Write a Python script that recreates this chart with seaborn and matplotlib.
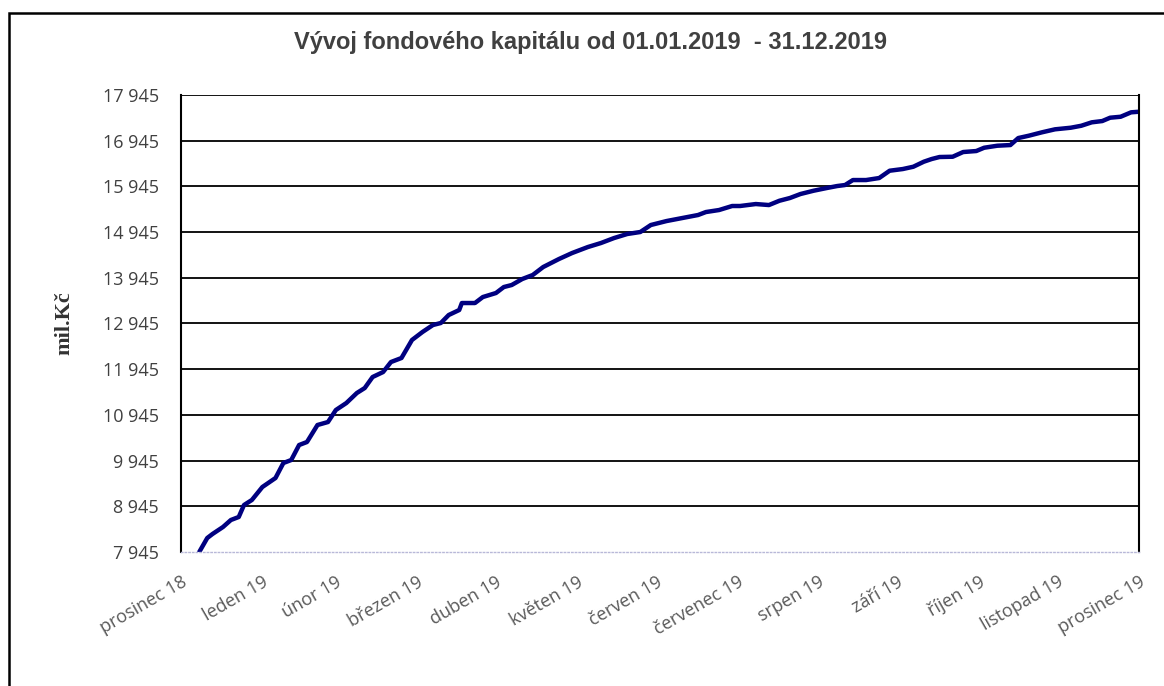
#vyvoj fondoveho kapitalu 2019 - line chart
import pandas as pd
import matplotlib.pyplot as plt
import matplotlib.ticker as mticker
from matplotlib.patches import Rectangle
import seaborn as sns

# day of year 2019 (0 = 31.12.2018) and capital in mil. Kc
den = [7, 10, 12, 16, 19, 22, 24, 27, 31, 36, 39, 42, 45, 48, 52, 56, 59, 63, 67, 70,
       73, 77, 80, 84, 88, 92, 96, 99, 102, 106, 107, 112, 115, 120, 123, 126, 130, 134,
       138, 144, 149, 155, 160, 165, 170, 175, 179, 185, 191, 197, 200, 205, 210, 213,
       219, 224, 228, 232, 236, 241, 246, 250, 253, 256, 261, 266, 270, 275, 279, 283,
       286, 289, 294, 298, 303, 306, 311, 316, 319, 323, 328, 333, 339, 343, 347, 351,
       354, 358, 362, 365]
kapital = [7950, 8251, 8339, 8492, 8645, 8711, 8973, 9083, 9367, 9564, 9892, 9958, 10286,
           10352, 10724, 10789, 11052, 11205, 11424, 11533, 11774, 11883, 12102, 12190,
           12584, 12759, 12912, 12956, 13131, 13240, 13393, 13393, 13524, 13612, 13743,
           13787, 13918, 14006, 14181, 14356, 14487, 14618, 14706, 14815, 14903, 14947,
           15100, 15187, 15253, 15319, 15384, 15428, 15516, 15516, 15559, 15537, 15631,
           15691, 15778, 15850, 15909, 15953, 15975, 16084, 16084, 16128, 16288, 16325,
           16375, 16485, 16544, 16588, 16594, 16697, 16719, 16791, 16835, 16850, 17003,
           17054, 17128, 17194, 17229, 17272, 17347, 17375, 17448, 17469, 17566, 17579]

mesice = ["prosinec 18", "leden 19", "únor 19", "březen 19", "duben 19", "květen 19",
          "červen 19", "červenec 19", "srpen 19", "září 19", "říjen 19", "listopad 19",
          "prosinec 19"]
y_ticks = [7945, 8945, 9945, 10945, 11945, 12945, 13945, 14945, 15945, 16945, 17945]

start = pd.Timestamp("2018-12-31")
df = pd.DataFrame({"Datum": start + pd.to_timedelta(den, unit="D"), "Kapital": kapital})
tick_dates = pd.date_range("2018-12-31", "2019-12-31", freq="ME")

sns.set_theme(style="white")
plt.rcParams["font.family"] = ["Open Sans", "DejaVu Sans"]

fig = plt.figure(figsize=(11.64, 6.86), dpi=100)
ax = fig.add_axes([181 / 1164, 1 - 552 / 686, 958 / 1164, 457 / 686])

sns.lineplot(data=df, x="Datum", y="Kapital", ax=ax, color="#000080", linewidth=3.2)

ax.set_xlim(start, pd.Timestamp("2019-12-31"))
ax.set_ylim(7945, 17945)
ax.set_yticks(y_ticks)
ax.yaxis.set_major_formatter(mticker.FuncFormatter(lambda v, p: f"{v:,.0f}".replace(",", " ")))
ax.set_xticks(tick_dates)
ax.set_xticklabels(mesice, rotation=30, ha="right", rotation_mode="anchor")
ax.tick_params(axis="x", length=0, pad=15, labelsize=13, labelcolor="#595959")
ax.tick_params(axis="y", length=0, pad=16, labelsize=13, labelcolor="#404040")

# horizontal grid, bottom line dotted
for v in y_ticks[1:]:
    ax.axhline(v, color="black", linewidth=1.3, zorder=0)
for side in ["left", "right"]:
    ax.spines[side].set_color("black")
    ax.spines[side].set_linewidth(1.5)
ax.spines["top"].set_visible(False)
ax.spines["bottom"].set_color("#b8b8d8")
ax.spines["bottom"].set_linestyle(":")
ax.spines["bottom"].set_linewidth(1)

ax.set_xlabel("")
ax.set_ylabel("mil.Kč", family="Liberation Serif", fontweight="bold", fontsize=16,
              color="#333333", labelpad=20)

fig.text(591 / 1164, 1 - 43 / 686, "Vývoj fondového kapitálu od 01.01.2019  - 31.12.2019",
         ha="center", va="center", family="Liberation Sans", fontweight="bold",
         fontsize=17, color="#404040")

# outer frame (cut off at the right and bottom edge)
fig.patches.append(Rectangle((9 / 1164, -0.1), 1.2, 1.1 - 13 / 686, transform=fig.transFigure,
                             fill=False, edgecolor="black", linewidth=1.8, clip_on=False))

fig.savefig("out.png", dpi=100)
